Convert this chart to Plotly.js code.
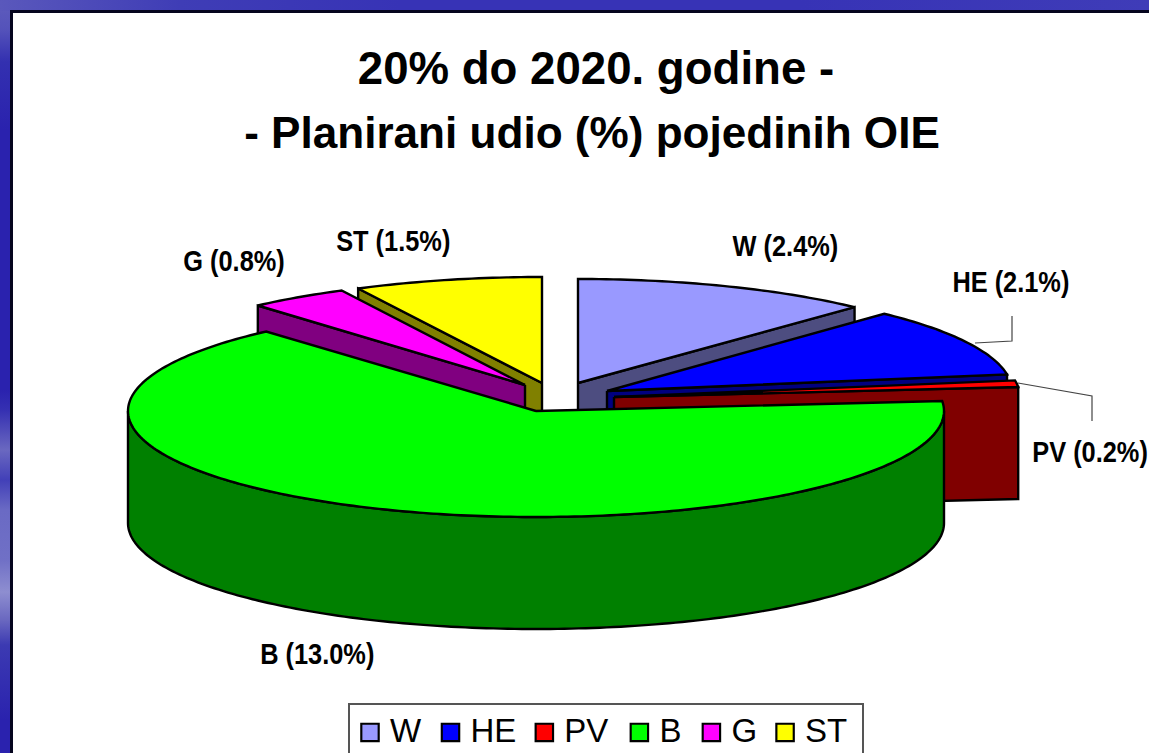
<!DOCTYPE html>
<html>
<head>
<meta charset="utf-8">
<script src="https://cdn.plot.ly/plotly-3.0.1.min.js"></script>
<style>
html,body{margin:0;padding:0;width:1149px;height:753px;overflow:hidden}
#bg{position:absolute;left:0;top:0;width:1149px;height:753px;
background:
 linear-gradient(90deg,#5a58bc 0,#3f3db6 180px,#3733b6 400px,#3733b6 800px,#3f3cb8 1149px) 0 0/1149px 11px no-repeat,
 linear-gradient(180deg,#5f5dbd 0,#5452ba 30px,#3330b0 62px,#2a22ae 130px,#2a22ae 390px,#3530b2 410px,#6a68c0 450px,#4240b8 480px,#6a6ac4 510px,#7070c6 560px,#8e8ed0 592px,#6a68c0 620px,#3c3ab2 645px,#2a22ae 720px,#2a22ae 753px) 0 0/11px 753px no-repeat,
 #fff;}
#chart{position:absolute;left:0;top:0;width:1149px;height:753px}
</style>
</head>
<body>
<div id="bg"></div>
<div id="chart"></div>
<script>
const categories = ['W','HE','PV','B','G','ST'];
const shares = [2.4,2.1,0.2,13.0,0.8,1.5];
const topColors = ['#9999FF','#0000FF','#FF0000','#00FF00','#FF00FF','#FFFF00'];
const sideColors = ['#4D4D80','#000080','#800000','#008000','#800080','#808000'];

// Projection of the tilted, exploded pie (in pixels of the page-sized axes)
const radiusX = [404,405,406,408,404,405];
const radiusY = [104,106,106,106,106,106];
const DEPTH = 112;
const apexX = [578,607,614,536,525,542];
const apexY = [383,391,397,411,385,383];

const total = shares.reduce((a,b)=>a+b,0);
const startAngle = [], endAngle = [];
let acc = 0;
shares.forEach((v,i)=>{ startAngle[i]=acc/total*360; acc+=v; endAngle[i]=acc/total*360; });

const rad = d=>d*Math.PI/180;
const rim = (i,d,dy=0)=>[apexX[i]+radiusX[i]*Math.sin(rad(d)), apexY[i]-radiusY[i]*Math.cos(rad(d))+dy];

function poly(pts,fill){
  return {type:'scatter',mode:'lines',x:pts.map(p=>p[0]),y:pts.map(p=>p[1]),fill:'toself',fillcolor:fill,
    line:{color:'#000',width:2.4,simplify:false},hoverinfo:'skip',showlegend:false};
}
function topFace(i){
  const pts=[[apexX[i],apexY[i]]];
  for(let d=startAngle[i];d<endAngle[i];d+=1) pts.push(rim(i,d));
  pts.push(rim(i,endAngle[i]));
  pts.push([apexX[i],apexY[i]]);
  return poly(pts,topColors[i]);
}
function edgeFace(i,d){
  const a=[apexX[i],apexY[i]], b=rim(i,d);
  return poly([a,b,[b[0],b[1]+DEPTH],[a[0],a[1]+DEPTH],a],sideColors[i]);
}
function wallFace(i){
  const from=Math.max(startAngle[i],90), to=Math.min(endAngle[i],270), up=[], down=[];
  for(let d=from;d<to;d+=1){up.push(rim(i,d));down.unshift(rim(i,d,DEPTH));}
  up.push(rim(i,to));down.unshift(rim(i,to,DEPTH));
  const pts=up.concat(down);pts.push(pts[0]);
  return poly(pts,sideColors[i]);
}

const idx=Object.fromEntries(categories.map((c,i)=>[c,i]));
const traces=[
  edgeFace(idx.W,endAngle[idx.W]), topFace(idx.W),
  edgeFace(idx.ST,startAngle[idx.ST]), topFace(idx.ST),
  edgeFace(idx.HE,endAngle[idx.HE]), topFace(idx.HE),
  edgeFace(idx.PV,endAngle[idx.PV]), topFace(idx.PV),
  edgeFace(idx.G,startAngle[idx.G]), topFace(idx.G),
  wallFace(idx.B), topFace(idx.B)
];
categories.forEach((c,i)=>traces.push({type:'scatter',mode:'markers',x:[null],y:[null],name:c,
  marker:{symbol:'square',size:16,color:topColors[i],line:{color:'#000',width:2}},hoverinfo:'skip'}));

const labelX=[785,1011,1090,317,234,393];
const labelY=[246,282,452,654,261,241];
const annotations=categories.map((c,i)=>({x:labelX[i],y:labelY[i],xref:'x',yref:'y',showarrow:false,
  text:c+' ('+shares[i].toFixed(1)+'%)',
  font:{family:'"Liberation Sans",Arial,sans-serif',size:29,weight:700,color:'#000'}}));

const layout={
  width:1149,height:753,margin:{l:0,r:0,t:0,b:0,autoexpand:false},
  paper_bgcolor:'rgba(0,0,0,0)',plot_bgcolor:'rgba(0,0,0,0)',
  title:{text:'20% do 2020. godine -<br><span style="font-size:44.1px">- Planirani udio (%) pojedinih OIE</span>',
    font:{family:'"Liberation Sans",Arial,sans-serif',size:45.6,weight:700,color:'#000'},
    x:0.5187,xanchor:'center',y:0.888,yanchor:'bottom'},
  xaxis:{range:[0,1149],visible:false,fixedrange:true},
  yaxis:{range:[753,0],visible:false,fixedrange:true},
  showlegend:true,
  legend:{orientation:'h',x:348/1149,y:1-703/753,xanchor:'left',yanchor:'top',bgcolor:'#fff',
    bordercolor:'#555',borderwidth:1.5,font:{family:'"Liberation Sans",Arial,sans-serif',size:33,color:'#000'},
    itemsizing:'constant',itemclick:false,itemdoubleclick:false},
  annotations,
  shapes:[
    {type:'rect',layer:'below',xref:'x',yref:'y',x0:11.5,y0:11.5,x1:1160,y1:770,fillcolor:'#fff',line:{color:'#05051e',width:3}},
    {type:'path',xref:'x',yref:'y',path:'M975,343 L1012,341 L1012,316',line:{color:'#444',width:1.2}},
    {type:'path',xref:'x',yref:'y',path:'M1018,383 L1092,396 L1092,421',line:{color:'#444',width:1.2}}
  ]
};
const labelSqueeze=0.875;
const legendShift=[0.5,4,7,13,18,21];
Plotly.newPlot('chart',traces,layout,{displayModeBar:false,staticPlot:true}).then(gd=>{
  // condensed label lettering, as in the reference
  gd.querySelectorAll('.annotation-text').forEach(t=>{
    const b=t.getBBox(), cx=b.x+b.width/2;
    t.setAttribute('transform','translate('+cx+',0) scale('+labelSqueeze+',1) translate('+(-cx)+',0)');
  });
  // wider line spacing and slight left shift of the title's second line
  const lines=gd.querySelectorAll('.gtitle .line');
  if(lines[1]){
    lines[1].setAttribute('y',parseFloat(lines[1].getAttribute('y'))+4);
    lines[1].setAttribute('x',parseFloat(lines[1].getAttribute('x'))-4);
  }
  // legend box runs off the bottom; spacing and swatch size
  const leg=gd.querySelector('.legend');
  if(leg){
    const bg=leg.querySelector('.bg');
    if(bg){bg.setAttribute('width',514);bg.setAttribute('height',80);bg.style.width='514px';bg.style.height='80px';}
    document.querySelectorAll('clipPath[id^="legend"] rect').forEach(r=>{r.setAttribute('width',514);r.setAttribute('height',80);});
    leg.querySelectorAll('.traces').forEach((g,i)=>{
      const m=/translate\(([-\d.]+)[, ]+([-\d.]+)\)/.exec(g.getAttribute('transform')||'');
      if(m) g.setAttribute('transform','translate('+(parseFloat(m[1])+legendShift[i])+','+m[2]+')');
      const p=g.querySelector('.legendpoints path');
      if(p){p.setAttribute('transform',(p.getAttribute('transform')||'')+' scale(1.45)');p.style.strokeWidth='1.5px';}
      const t=g.querySelector('.legendtext');
      if(t) t.setAttribute('y',parseFloat(t.getAttribute('y')||0)-3);
    });
  }
});
</script>
</body>
</html>
